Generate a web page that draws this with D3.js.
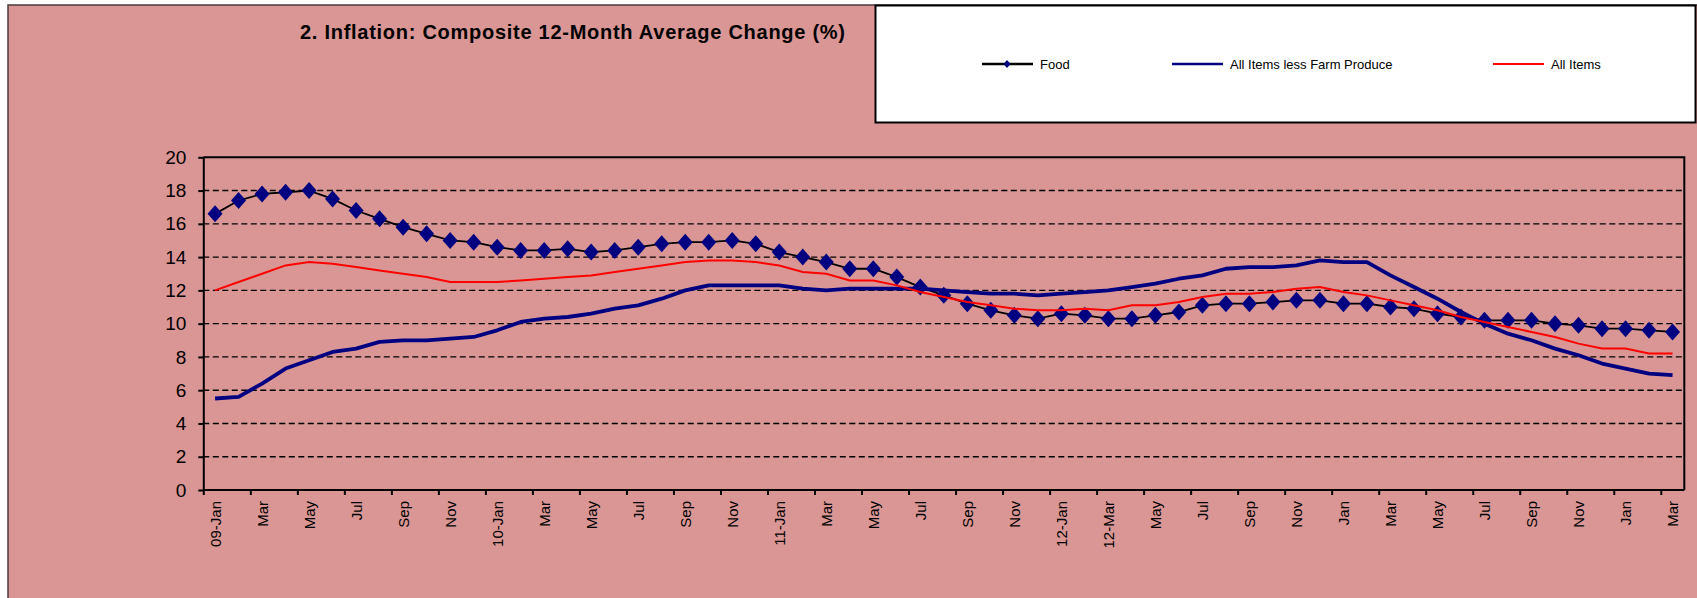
<!DOCTYPE html>
<html>
<head>
<meta charset="utf-8">
<title>Inflation: Composite 12-Month Average Change</title>
<script src="https://cdn.jsdelivr.net/npm/d3@7"></script>
<style>
body { margin: 0; background: #fff; }
svg text { font-family: Arial, "Liberation Sans", sans-serif; }
.grid line { stroke: #000; stroke-width: 1.4; stroke-dasharray: 6,3.5; }
.axis path, .axis line { stroke: #000; stroke-width: 2; }
.axis text { fill: #000; }
</style>
</head>
<body>
<script>
// months Jan 2009 .. Mar 2014
var months = [
  "2009-01","2009-02","2009-03","2009-04","2009-05","2009-06","2009-07","2009-08","2009-09","2009-10","2009-11","2009-12",
  "2010-01","2010-02","2010-03","2010-04","2010-05","2010-06","2010-07","2010-08","2010-09","2010-10","2010-11","2010-12",
  "2011-01","2011-02","2011-03","2011-04","2011-05","2011-06","2011-07","2011-08","2011-09","2011-10","2011-11","2011-12",
  "2012-01","2012-02","2012-03","2012-04","2012-05","2012-06","2012-07","2012-08","2012-09","2012-10","2012-11","2012-12",
  "2013-01","2013-02","2013-03","2013-04","2013-05","2013-06","2013-07","2013-08","2013-09","2013-10","2013-11","2013-12",
  "2014-01","2014-02","2014-03"
];

// tick labels, one every second month
var monthLabels = ["09-Jan","Mar","May","Jul","Sep","Nov","10-Jan","Mar","May","Jul","Sep","Nov",
  "11-Jan","Mar","May","Jul","Sep","Nov","12-Jan","12-Mar","May","Jul","Sep","Nov",
  "Jan","Mar","May","Jul","Sep","Nov","Jan","Mar"];

var food = [16.6,17.4,17.8,17.9,18.0,17.5,16.8,16.3,15.8,15.4,15.0,14.9,
  14.6,14.4,14.4,14.5,14.3,14.4,14.6,14.8,14.9,14.9,15.0,14.8,
  14.3,14.0,13.7,13.3,13.3,12.8,12.2,11.7,11.2,10.8,10.5,10.3,
  10.6,10.5,10.3,10.3,10.5,10.7,11.1,11.2,11.2,11.3,11.4,11.4,
  11.2,11.2,11.0,10.9,10.6,10.4,10.2,10.2,10.2,10.0,9.9,9.7,
  9.7,9.6,9.5];

var lessFarm = [5.5,5.6,6.4,7.3,7.8,8.3,8.5,8.9,9.0,9.0,9.1,9.2,
  9.6,10.1,10.3,10.4,10.6,10.9,11.1,11.5,12.0,12.3,12.3,12.3,
  12.3,12.1,12.0,12.1,12.1,12.1,12.1,12.0,11.9,11.8,11.8,11.7,
  11.8,11.9,12.0,12.2,12.4,12.7,12.9,13.3,13.4,13.4,13.5,13.8,
  13.7,13.7,12.9,12.2,11.5,10.7,10.0,9.4,9.0,8.5,8.1,7.6,
  7.3,7.0,6.9];

var allItems = [12.0,12.5,13.0,13.5,13.7,13.6,13.4,13.2,13.0,12.8,12.5,12.5,
  12.5,12.6,12.7,12.8,12.9,13.1,13.3,13.5,13.7,13.8,13.8,13.7,
  13.5,13.1,13.0,12.6,12.6,12.3,11.9,11.6,11.3,11.1,10.9,10.8,
  10.8,10.9,10.8,11.1,11.1,11.3,11.6,11.8,11.8,11.9,12.1,12.2,
  11.9,11.7,11.4,11.1,10.8,10.4,10.1,9.8,9.5,9.2,8.8,8.5,
  8.5,8.2,8.2];

var yTicks = [0,2,4,6,8,10,12,14,16,18,20];

var seriesNames = ["Food", "All Items less Farm Produce", "All Items"];

var W = 1697, H = 598;
var plot = {left: 203.3, right: 1684.3, top: 157.3, bottom: 490};

var svg = d3.select("body").append("svg")
    .attr("width", W)
    .attr("height", H);

// chart area
svg.append("rect")
    .attr("x", 8).attr("y", 5)
    .attr("width", W).attr("height", H)
    .attr("fill", "#D99694")
    .attr("stroke", "#4a3a3a")
    .attr("stroke-width", 1.5);

var x = d3.scalePoint()
    .domain(months)
    .range([plot.left, plot.right])
    .padding(0.5);
var step = x.step();

var y = d3.scaleLinear()
    .domain([0, 20])
    .range([plot.bottom, plot.top]);

// dashed gridlines
svg.append("g")
    .attr("class", "grid")
    .selectAll("line")
    .data(yTicks.filter(function(d) { return d > 0 && d < 20; }))
    .enter().append("line")
    .attr("x1", plot.left).attr("x2", plot.right)
    .attr("y1", function(d) { return y(d); })
    .attr("y2", function(d) { return y(d); });

// top and right border of plot
svg.append("path")
    .attr("d", "M" + plot.left + "," + plot.top + "H" + plot.right + "V" + plot.bottom)
    .attr("fill", "none")
    .attr("stroke", "#000")
    .attr("stroke-width", 2);

// y axis
svg.append("g")
    .attr("class", "axis y")
    .attr("transform", "translate(" + plot.left + ",0)")
    .call(d3.axisLeft(y).tickValues(yTicks).tickSize(5).tickPadding(12).tickSizeOuter(0))
    .call(function(g) {
      g.selectAll("text").attr("font-size", 19);
    });

// x axis: labels at category centres, tick marks on category edges
var labelled = months.filter(function(d, i) { return i % 2 === 0; });
var xAxis = svg.append("g")
    .attr("class", "axis x")
    .attr("transform", "translate(0," + plot.bottom + ")")
    .call(d3.axisBottom(x)
      .tickValues(labelled)
      .tickSize(5)
      .tickSizeOuter(0)
      .tickFormat(function(d, i) { return monthLabels[i]; }));
xAxis.select(".domain").attr("d", "M" + plot.left + ",0H" + plot.right);
xAxis.selectAll(".tick line")
    .attr("x1", -step / 2).attr("x2", -step / 2);
xAxis.selectAll(".tick text")
    .attr("font-size", 15)
    .attr("transform", "rotate(-90)")
    .attr("text-anchor", "end")
    .attr("x", -11)
    .attr("y", 0)
    .attr("dy", "0.35em");

// lines
var line = d3.line()
    .x(function(d, i) { return x(months[i]); })
    .y(function(d) { return y(d); });

svg.append("path")
    .datum(food)
    .attr("fill", "none")
    .attr("stroke", "#000")
    .attr("stroke-width", 1.8)
    .attr("d", line);

var diamond = "M0,-8.5L7.5,0L0,8.5L-7.5,0Z";
svg.append("g")
    .selectAll("path")
    .data(food)
    .enter().append("path")
    .attr("d", diamond)
    .attr("fill", "#000080")
    .attr("transform", function(d, i) { return "translate(" + x(months[i]) + "," + y(d) + ")"; });

svg.append("path")
    .datum(lessFarm)
    .attr("fill", "none")
    .attr("stroke", "#000080")
    .attr("stroke-width", 3.8)
    .attr("stroke-linejoin", "round")
    .attr("d", line);

svg.append("path")
    .datum(allItems)
    .attr("fill", "none")
    .attr("stroke", "#FF0000")
    .attr("stroke-width", 2)
    .attr("d", line);

// title (Excel renders it wider than the browser does)
svg.append("text")
    .attr("x", 300)
    .attr("y", 39)
    .attr("font-size", 20)
    .attr("font-weight", "bold")
    .attr("textLength", 545)
    .attr("lengthAdjust", "spacing")
    .text("2. Inflation: Composite 12-Month Average Change (%)");

// legend
var legend = svg.append("g");
legend.append("rect")
    .attr("x", 875.5).attr("y", 5.5)
    .attr("width", 820).attr("height", 117)
    .attr("fill", "#fff")
    .attr("stroke", "#000")
    .attr("stroke-width", 2);

var legendX = [982, 1172, 1493];
var legendColors = ["#000", "#000080", "#FF0000"];
var ly = 64;
seriesNames.forEach(function(name, i) {
  legend.append("line")
      .attr("x1", legendX[i]).attr("x2", legendX[i] + 51)
      .attr("y1", ly).attr("y2", ly)
      .attr("stroke", legendColors[i])
      .attr("stroke-width", i === 2 ? 2 : 2.5);
  if (i === 0) {
    legend.append("path")
        .attr("d", "M0,-4L3.5,0L0,4L-3.5,0Z")
        .attr("fill", "#000080")
        .attr("transform", "translate(" + (legendX[i] + 25) + "," + ly + ")");
  }
  legend.append("text")
      .attr("x", legendX[i] + 58)
      .attr("y", ly)
      .attr("dy", "0.35em")
      .attr("font-size", 13)
      .text(name);
});
</script>
</body>
</html>
